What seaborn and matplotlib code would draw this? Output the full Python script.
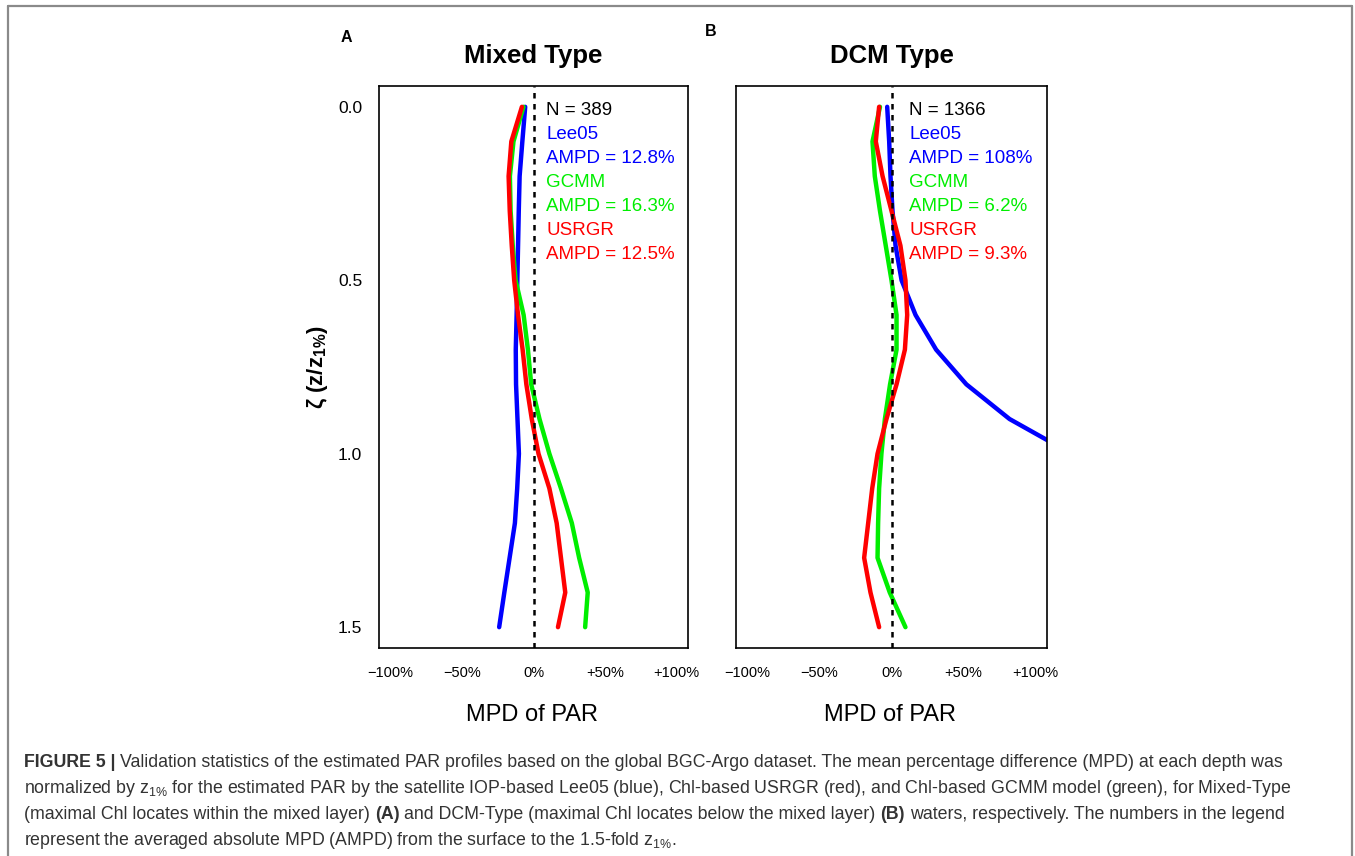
import numpy as np
import pandas as pd
import seaborn as sns
import matplotlib
matplotlib.use("Agg")
import matplotlib.pyplot as plt
from matplotlib.lines import Line2D
from matplotlib import font_manager

# ---------------- data ----------------
depth = [0.0, 0.1, 0.2, 0.3, 0.4, 0.5, 0.6, 0.7, 0.8, 0.9, 1.0, 1.1, 1.2, 1.3, 1.4, 1.5]

mixed_lee05 = [-5.8, -7.8, -9.7, -10.3, -10.8, -11.3, -11.8, -12.4, -12.2, -11.2, -10.2, -11.4, -13.0, -16.7, -20.4, -24.0]
mixed_gcmm = [-7.0, -14.0, -16.5, -16.0, -14.5, -12.5, -6.9, -3.9, -1.6, 4.2, 11.1, 19.2, 26.8, 31.9, 37.9, 36.1]
mixed_usrgr = [-8.1, -15.5, -17.4, -16.6, -15.2, -13.5, -10.8, -7.6, -5.0, -1.2, 3.5, 11.1, 16.2, 19.2, 22.2, 17.1]

dcm_lee05 = [-3.0, -1.6, -0.7, 0.7, 2.8, 7.0, 16.7, 31.0, 52.0, 82.0, 125.0, 170.0, 220.0, 280.0, 340.0, 400.0]
dcm_gcmm = [-8.0, -13.2, -11.6, -8.0, -4.0, 0.0, 3.5, 3.5, -1.0, -4.6, -7.0, -8.6, -9.3, -9.7, -1.2, 9.7]
dcm_usrgr = [-8.6, -10.9, -6.2, 0.0, 6.2, 9.7, 10.9, 9.3, 3.5, -3.5, -9.7, -13.4, -16.2, -19.0, -14.6, -8.6]

panel_titles = ["Mixed Type", "DCM Type"]
panel_letters = ["A", "B"]
panel_n = ["N = 389", "N = 1366"]
model_names = ["Lee05", "GCMM", "USRGR"]
ampd_mixed = ["12.8%", "16.3%", "12.5%"]
ampd_dcm = ["108%", "6.2%", "9.3%"]
model_colors = ["#0000FF", "#00EE00", "#FF0000"]

xticks = [-100, -50, 0, 50, 100]
xtick_labels = ["\u2212100%", "\u221250%", "0%", "+50%", "+100%"]
yticks = [0.0, 0.5, 1.0, 1.5]
ytick_labels = ["0.0", "0.5", "1.0", "1.5"]

# ---------------- style ----------------
sns.set_style("white")
plt.rcParams["font.family"] = ["Liberation Sans", "DejaVu Sans"]
plt.rcParams["text.color"] = "black"
plt.rcParams["axes.labelcolor"] = "black"
plt.rcParams["xtick.color"] = "black"
plt.rcParams["ytick.color"] = "black"
plt.rcParams["mathtext.fontset"] = "custom"
plt.rcParams["mathtext.rm"] = "Liberation Sans"

W, H = 1355, 856
fig = plt.figure(figsize=(W / 100, H / 100), dpi=100)
fig.patch.set_facecolor("white")


def px(x, y):
    return x / W, 1 - y / H


# ---------------- panels ----------------
panel_boxes = [(379, 688), (736, 1047)]
top_px, bot_px = 86, 648
series_sets = [
    (mixed_lee05, mixed_gcmm, mixed_usrgr),
    (dcm_lee05, dcm_gcmm, dcm_usrgr),
]
ampd_sets = [ampd_mixed, ampd_dcm]
legend_x = [8.8, 12.3]

for i, (l, r) in enumerate(panel_boxes):
    ax = fig.add_axes([l / W, 1 - bot_px / H, (r - l) / W, (bot_px - top_px) / H])
    for vals, col in zip(series_sets[i], model_colors):
        df = pd.DataFrame({"depth": depth, "mpd": vals})
        sns.lineplot(data=df, x="mpd", y="depth", sort=False, estimator=None,
                     color=col, lw=3.2, ax=ax, solid_capstyle="round",
                     solid_joinstyle="round")
    ax.axvline(0, color="black", lw=1.8, ls=(0, (2.2, 2.2)), zorder=5)
    ax.set_xlim(-108, 108)
    ax.set_ylim(1.56, -0.06)
    ax.set_xticks(xticks)
    ax.set_xticklabels(xtick_labels, fontsize=10.5)
    ax.set_yticks(yticks)
    if i == 0:
        ax.set_yticklabels(ytick_labels, fontsize=12.5)
    else:
        ax.set_yticklabels([])
    ax.tick_params(axis="both", direction="out", length=6, width=1.0,
                   color="black", labelcolor="black")
    ax.tick_params(axis="x", pad=7)
    ax.tick_params(axis="y", pad=6)
    ax.set_xlabel("")
    ax.set_ylabel("")
    for s in ax.spines.values():
        s.set_color("black")
        s.set_linewidth(1.2)
        s.set_visible(True)

    # legend-like annotation text
    lines = [(panel_n[i], "black")]
    for name, amp, col in zip(model_names, ampd_sets[i], model_colors):
        lines.append((name, col))
        lines.append(("AMPD = " + amp, col))
    for k, (txt, col) in enumerate(lines):
        ax.text(legend_x[i], 0.01 + k * 0.0692, txt, color=col, fontsize=13.5,
                ha="left", va="center", zorder=6)

    cx = (l + r) / 2
    fig.text(*px(cx, 63), panel_titles[i], ha="center", va="baseline",
             fontsize=18.5, fontweight="bold", color="black")
    fig.text(*px(cx - 2, 721), "MPD of PAR", ha="center", va="baseline",
             fontsize=17, color="black")

fig.text(*px(346, 37), panel_letters[0], ha="center", va="center", fontsize=11.5,
         fontweight="bold", color="black")
fig.text(*px(711, 31), panel_letters[1], ha="center", va="center", fontsize=11.5,
         fontweight="bold", color="black")

fig.text(*px(318, 367), r"ζ (z/z$_\mathregular{1\%}$)", rotation=90, ha="center",
         va="center", fontsize=16, fontweight="bold", color="black")

# ---------------- frame ----------------
frame_col = "#8a8a8a"
fig.add_artist(Line2D([8 / W, 1352 / W], [1 - 6 / H, 1 - 6 / H], color=frame_col, lw=1.6))
fig.add_artist(Line2D([8 / W, 8 / W], [1 - 6 / H, 0], color=frame_col, lw=1.6))
fig.add_artist(Line2D([1352 / W, 1352 / W], [1 - 6 / H, 0], color=frame_col, lw=1.6))

# ---------------- caption ----------------
names = {f.name for f in font_manager.fontManager.ttflist}
cap_family = "Liberation Sans Narrow" if "Liberation Sans Narrow" in names else "Liberation Sans"

caption_lines = [
    [("FIGURE 5 |", "bold", False),
     ("Validation statistics of the estimated PAR profiles based on the global BGC-Argo dataset. The mean percentage difference (MPD) at each depth was", "normal", True)],
    [(r"normalized by z$_\mathregular{1\%}$ for the estimated PAR by the satellite IOP-based Lee05 (blue), Chl-based USRGR (red), and Chl-based GCMM model (green), for Mixed-Type", "normal", False)],
    [("(maximal Chl locates within the mixed layer)", "normal", False),
     ("(A)", "bold", True),
     ("and DCM-Type (maximal Chl locates below the mixed layer)", "normal", True),
     ("(B)", "bold", True),
     ("waters, respectively. The numbers in the legend", "normal", True)],
    [(r"represent the averaged absolute MPD (AMPD) from the surface to the 1.5-fold z$_\mathregular{1\%}$.", "normal", False)],
]
cap_baselines = [767, 793, 819, 845]

renderer = fig.canvas.get_renderer()


def measure(txt, size, weight):
    t = fig.text(0, 0, txt, fontsize=size, fontweight=weight, family=cap_family)
    w = t.get_window_extent(renderer).width
    t.remove()
    return w


def line_width(segs, size):
    sp = measure("a a", size, "normal") - measure("aa", size, "normal")
    tot = 0
    for txt, wt, spb in segs:
        if spb:
            tot += sp
        tot += measure(txt, size, wt)
    return tot


base = 11.0
target = 1281 - 24
cap_size = base * target / line_width(caption_lines[0], base)
space_w = measure("a a", cap_size, "normal") - measure("aa", cap_size, "normal")

for segs, yb in zip(caption_lines, cap_baselines):
    x = 24
    for txt, wt, spb in segs:
        if spb:
            x += space_w
        t = fig.text(x / W, 1 - yb / H, txt, fontsize=cap_size, fontweight=wt,
                     family=cap_family, color="#333333", ha="left", va="baseline")
        x += t.get_window_extent(renderer).width

fig.savefig("out.png", dpi=100, facecolor="white")
